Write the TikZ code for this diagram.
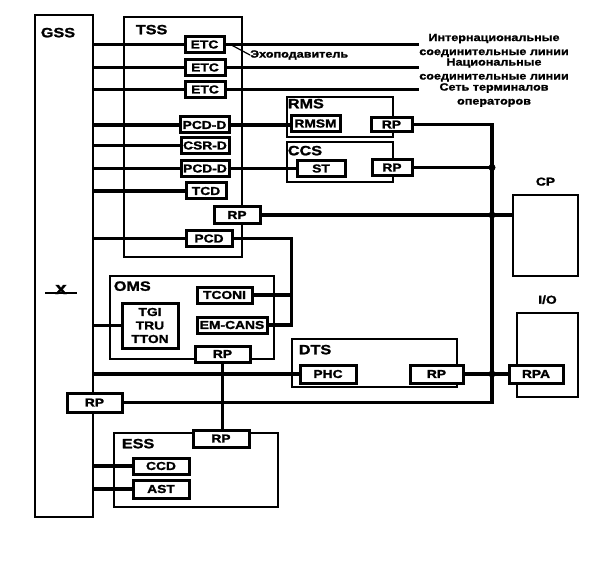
\documentclass[tikz,border=0pt]{standalone}
\usepackage{fontspec}
\setmainfont{Liberation Sans}[FakeStretch=1.2, BoldFeatures={FakeBold=1.5}]
\usetikzlibrary{positioning, calc}

\newcommand{\unitfont}{\fontsize{11.5}{13.5}\selectfont\bfseries}
\newcommand{\grpfont}{\fontsize{13.5}{15}\selectfont\bfseries}
\newcommand{\notefont}{\fontsize{10.5}{14}\selectfont\bfseries}

\tikzset{
  frame/.style={draw, line width=2.7pt, inner sep=0pt},
  unit/.style={draw, fill=white, line width=3pt, inner sep=1pt, minimum height=16pt, font=\unitfont},
  grouplabel/.style={inner sep=0pt, font=\grpfont, anchor=west},
  note/.style={inner sep=0pt, font=\notefont, align=center},
  conn/.style={line width=3.2pt}
}

\begin{document}
\begin{tikzpicture}[x=1pt, y=-1pt]
    \useasboundingbox (0,0) rectangle (596,561);

    % subsystems
    \node[frame, minimum width=58, minimum height=502] (gss) at (64,266) {};
    \node[frame, minimum width=118, minimum height=240] (tss) at (183,137) {};
    \node[frame, minimum width=106, minimum height=40] (rms) at (340,117) {};
    \node[frame, minimum width=106, minimum height=40] (ccs) at (340,162) {};
    \node[frame, minimum width=65, minimum height=81] (cp) at (545.5,235.5) {};
    \node[frame, minimum width=164, minimum height=83] (oms) at (192,317.5) {};
    \node[frame, minimum width=165, minimum height=48] (dts) at (374.5,363) {};
    \node[frame, minimum width=61, minimum height=84] (io) at (547.5,355) {};
    \node[frame, minimum width=164, minimum height=74] (ess) at (196,470) {};

    \node[grouplabel] (gsslbl) at ([shift={(7,19)}]gss.north west) {GSS};
    \node[grouplabel] (tsslbl) at ([shift={(13,14)}]tss.north west) {TSS};
    \node[grouplabel] (rmslbl) at ([shift={(2,8)}]rms.north west) {RMS};
    \node[grouplabel] (ccslbl) at ([shift={(2,10)}]ccs.north west) {CCS};
    \node[grouplabel] (omslbl) at ([shift={(5,11.5)}]oms.north west) {OMS};
    \node[grouplabel] (dtslbl) at ([shift={(8,12)}]dts.north west) {DTS};
    \node[grouplabel] (esslbl) at ([shift={(9,12)}]ess.north west) {ESS};
    \node[inner sep=0pt, font=\unitfont] (cplbl) at ([yshift=12]cp.north) {CP};
    \node[inner sep=0pt, font=\unitfont] (iolbl) at ([yshift=12]io.north) {I/O};

    % switching field mark
    \draw[line width=2.4pt] (45,293) -- (77,293);
    \node[inner sep=0pt, font=\fontsize{17}{17}\selectfont\bfseries, anchor=base] (xmark) at (61,294) {x};

    % units
    \node[unit, minimum width=39] (etc1) at (204.5,44.5) {ETC};
    \node[unit, minimum width=40] (etc2) at (205,67.5) {ETC};
    \node[unit, minimum width=40] (etc3) at (205,89.5) {ETC};
    \node[unit, minimum width=49] (pcdd1) at (204.5,125) {PCD-D};
    \node[unit, minimum width=48] (csrd) at (205,145.5) {CSR-D};
    \node[unit, minimum width=48] (pcdd2) at (205,168.5) {PCD-D};
    \node[unit, minimum width=40] (tcd) at (206,191) {TCD};
    \node[unit, minimum width=46] (rptss) at (237,215) {RP};
    \node[unit, minimum width=46] (pcd) at (209,238.5) {PCD};
    \node[unit, minimum width=49] (rmsm) at (315.5,123.5) {RMSM};
    \node[unit, minimum width=41, minimum height=14] (rprms) at (391.5,124.5) {RP};
    \node[unit, minimum width=48] (st) at (321,168.5) {ST};
    \node[unit, minimum width=40] (rpccs) at (392,167.5) {RP};
    \node[unit, minimum width=56, minimum height=45, align=center] (tgi) at (150,325.5) {TGI\\TRU\\TTON};
    \node[unit, minimum width=55] (tconi) at (224.5,295) {TCONI};
    \node[unit, minimum width=70] (emcans) at (232,325) {EM-CANS};
    \node[unit, minimum width=55] (rpoms) at (222.5,354) {RP};
    \node[unit, minimum width=56, minimum height=18] (phc) at (328,374) {PHC};
    \node[unit, minimum width=53, minimum height=18] (rpdts) at (436.5,374) {RP};
    \node[unit, minimum width=54, minimum height=18] (rpa) at (536,374) {RPA};
    \node[unit, minimum width=55, minimum height=19] (rpgss) at (94.5,402.5) {RP};
    \node[unit, minimum width=56, minimum height=17] (rpess) at (221,438.5) {RP};
    \node[unit, minimum width=56] (ccd) at (161,466) {CCD};
    \node[unit, minimum width=56, minimum height=18] (ast) at (161,489) {AST};

    % line labels
    \node[note] (intl) at (494,45.5) {Интернациональные\\соединительные линии};
    \node[note] (natl) at (494,70) {Национальные\\соединительные линии};
    \node[note] (oper) at (494,95) {Сеть терминалов\\операторов};
    \node[note, anchor=west] (echo) at (250,55) {Эхоподавитель};

    % connections
    \foreach \u in {etc1,etc2,etc3,pcdd1,csrd,pcdd2,tcd,pcd,tgi,phc,ccd,ast}
        \draw[conn] (gss.east |- \u.west) -- (\u.west);
    \draw[conn] (etc1.east) -- (etc1.east -| intl.west);
    \draw[conn] (etc2.east) -- (etc2.east -| natl.west);
    \draw[conn] (etc3.east) -- (etc3.east -| intl.west);
    \draw[line width=1.2pt] ([xshift=5pt]etc1.east) -- (echo.west);
    \draw[conn] (pcdd1.east) -- (pcdd1.east -| rmsm.west);
    \draw[conn] (pcdd2.east) -- (pcdd2.east -| st.west);

    \coordinate (bustop) at (492,124.5);
    \coordinate (busbot) at (492,402.5);
    \draw[conn] (rprms.east) -- (bustop) -- (busbot) -- (rpgss.east);
    \draw[conn] (rpccs.east) -- (rpccs.east -| bustop);
    \draw[conn] (rptss.east) -- (rptss.east -| cp.west);
    \draw[conn] (rpdts.east) -- (rpa.west);
    \foreach \p in {rpccs.east -| bustop, rptss.east -| bustop, rpdts.east -| bustop}
        \fill (\p) circle (3.5pt);

    \path (pcd.east) ++(58,0) coordinate (pcdx);
    \draw[conn] (pcd.east) -- (pcdx) |- (emcans.east);
    \draw[conn] (tconi.east) -- (tconi.east -| pcdx);
    \draw[conn] (rpoms.south) -- (rpoms.south |- rpess.north);
\end{tikzpicture}
\end{document}
